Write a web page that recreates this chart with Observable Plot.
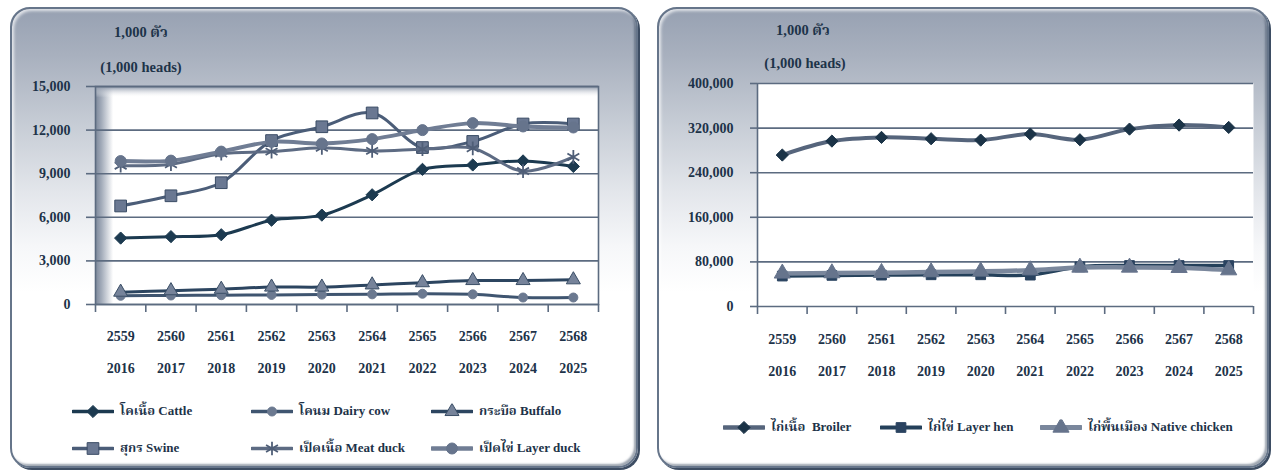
<!DOCTYPE html>
<html><head><meta charset="utf-8">
<script src="https://cdn.jsdelivr.net/npm/d3@7"></script>
<script src="https://cdn.jsdelivr.net/npm/@observablehq/plot@0.6"></script>
<style>
html,body{margin:0;padding:0}
body{width:1275px;height:470px;background:#fff;position:relative;overflow:hidden;font-family:"Liberation Serif","Times New Roman","Noto Serif Thai","Noto Sans Thai",serif;font-weight:bold;color:#1d3349}
.panel{position:absolute;top:7px;height:461px;box-sizing:border-box;border:2px solid #66758a;border-radius:20px;
 background:linear-gradient(to bottom,#97a1b2 0%,#a8b0be 10%,#c6ccd5 25%,#e3e6eb 40%,#f6f7f9 52%,#ffffff 62%);
 box-shadow:2px 2px 0 #3d4d63, inset 2px 2px 3px rgba(255,255,255,0.7), inset -2px -2px 2px rgba(60,76,98,0.5)}
.chart{position:absolute;top:7px}
.unit{position:absolute;font-size:14.5px;transform:translate(-50%,-50%);white-space:nowrap}
.leg{position:absolute;display:flex;align-items:center;font-size:13px;white-space:pre;transform:translateY(-50%)}
.leg svg{margin-right:6px}
</style>
</head><body>
<svg width="0" height="0" style="position:absolute">
<defs>
<linearGradient id="wallH" x1="0" y1="0" x2="1" y2="0">
<stop offset="0" stop-color="#7c879a"/><stop offset="0.012" stop-color="#a3acba"/><stop offset="0.035" stop-color="#ffffff"/><stop offset="1" stop-color="#ffffff"/>
</linearGradient>
<linearGradient id="wallV" x1="0" y1="0" x2="0" y2="1">
<stop offset="0" stop-color="#8a95a7" stop-opacity="1"/><stop offset="0.05" stop-color="#ffffff" stop-opacity="0"/><stop offset="1" stop-color="#ffffff" stop-opacity="0"/>
</linearGradient>
</defs></svg>
<div class="panel" style="left:10px;width:628px"></div>
<div class="panel" style="left:657px;width:612px"></div>
<div id="c1" class="chart" style="left:10px"></div>
<div id="c2" class="chart" style="left:657px"></div>
<div class="unit" style="left:141px;top:33px">1,000 ตัว</div>
<div class="unit" style="left:141px;top:67px">(1,000 heads)</div>
<div class="unit" style="left:803px;top:31px">1,000 ตัว</div>
<div class="unit" style="left:805px;top:63px">(1,000 heads)</div>
<div id="leg"></div>
<script>
// ---- data ----
const years = [2016, 2017, 2018, 2019, 2020, 2021, 2022, 2023, 2024, 2025];
const yearsBE = ["2559", "2560", "2561", "2562", "2563", "2564", "2565", "2566", "2567", "2568"];
const yearsCE = ["2016", "2017", "2018", "2019", "2020", "2021", "2022", "2023", "2024", "2025"];

const cattle    = [4570, 4670, 4800, 5800, 6150, 7550, 9300, 9600, 9880, 9500];
const dairyCow  = [600, 620, 640, 660, 680, 700, 740, 700, 480, 480];
const buffalo   = [850, 950, 1050, 1200, 1200, 1350, 1500, 1650, 1650, 1700];
const swine     = [6780, 7480, 8380, 11280, 12230, 13180, 10800, 11220, 12420, 12420];
const meatDuck  = [9550, 9650, 10380, 10520, 10780, 10570, 10690, 10750, 9180, 10150];
const layerDuck = [9870, 9900, 10520, 11190, 11080, 11380, 12000, 12480, 12250, 12180];

const broiler       = [271700, 296700, 303300, 300900, 298500, 309300, 299100, 318200, 325400, 321200];
const layerHen      = [54600, 55800, 56300, 56900, 56900, 56300, 71100, 73500, 73500, 73500];
const nativeChicken = [59400, 59900, 60500, 61700, 62900, 65200, 70000, 70000, 69400, 65200];

const leftTicks  = [0, 3000, 6000, 9000, 12000, 15000];
const rightTicks = [0, 80000, 160000, 240000, 320000, 400000];

const leftSeries = [
  {name: "โคเนื้อ Cattle", values: cattle, line: "#1c3a50", w: 3, symbol: "diamond2", fill: "#1c3a50", stroke: "#1c3a50", r: 5.5},
  {name: "โคนม Dairy cow", values: dairyCow, line: "#3f5570", w: 3, symbol: "circle", fill: "#6b7990", stroke: "#6b7990", r: 4.5},
  {name: "กระบือ Buffalo", values: buffalo, line: "#2c4560", w: 3, symbol: "triangle", fill: "#76839a", stroke: "#3a4e66", r: 5.2},
  {name: "สุกร Swine", values: swine, line: "#4b5d78", w: 3, symbol: "square", fill: "#6a7892", stroke: "#3a4c65", r: 6.6},
  {name: "เป็ดเนื้อ Meat duck", values: meatDuck, line: "#5d6b83", w: 3, symbol: "asterisk", fill: "none", stroke: "#4f5e77", r: 6.5},
  {name: "เป็ดไข่ Layer duck", values: layerDuck, line: "#707d94", w: 4, symbol: "circle", fill: "#66748c", stroke: "#66748c", r: 5.5}
];
const rightSeries = [
  {name: "ไก่เนื้อ  Broiler", values: broiler, line: "#56657c", w: 4, symbol: "diamond2", fill: "#1b3347", stroke: "#1b3347", r: 5.5},
  {name: "ไก่ไข่ Layer hen", values: layerHen, line: "#24405a", w: 3.5, symbol: "square", fill: "#2a4360", stroke: "#2a4360", r: 5.5},
  {name: "ไก่พื้นเมือง Native chicken", values: nativeChicken, line: "#7a879c", w: 4.5, symbol: "triangle", fill: "#66748c", stroke: "#66748c", r: 6}
];

const textColor = "#1d3349";
const gridColor = "#5c6b80";
const bounds = years.map(y => y - 0.5).concat([years[years.length - 1] + 0.5]);
const beOf = d => yearsBE[years.indexOf(d)];
const ceOf = d => yearsCE[years.indexOf(d)];

function seriesMarks(series) {
  const out = [];
  series.forEach((s) => {
    const data = s.values.map((v, i) => ({year: years[i], value: v}));
    out.push(Plot.line(data, {x: "year", y: "value", stroke: s.line, strokeWidth: s.w, curve: "catmull-rom"}));
    out.push(Plot.dot(data, {x: "year", y: "value", symbol: () => s.symbol, r: s.r, fill: s.fill, stroke: s.stroke, strokeWidth: s.symbol === "asterisk" ? 1.8 : 1}));
  });
  return out;
}

function makeChart(opts) {
  const {series, ticks, width, height, margins, wall, tickPadY, tickSizeY, pad1, pad2} = opts;
  const marks = [];
  marks.push(Plot.frame({fill: "white", stroke: null}));
  if (wall) {
    marks.push(Plot.frame({fill: "url(#wallH)", stroke: null}));
    marks.push(Plot.frame({fill: "url(#wallV)", stroke: null}));
  }
  marks.push(Plot.gridY(ticks, {stroke: gridColor, strokeOpacity: 1, strokeWidth: 1.6}));
  if (wall) {
    marks.push(Plot.frame({stroke: gridColor, strokeWidth: 1.6}));
  } else {
    marks.push(Plot.ruleX([bounds[0]], {stroke: gridColor, strokeWidth: 1.6}));
  }
  marks.push(Plot.axisY({ticks, tickSize: tickSizeY, tickPadding: tickPadY, tickFormat: d3.format(","), stroke: gridColor, strokeWidth: 1.6, fill: textColor, fontSize: 14, fontWeight: "bold", label: null}));
  marks.push(Plot.axisX({ticks: bounds, tickSize: 8, tickFormat: () => "", stroke: gridColor, strokeWidth: 1.6, label: null}));
  marks.push(Plot.axisX({ticks: years, tickSize: 0, tickPadding: pad1, tickFormat: beOf, fill: textColor, fontSize: 14, fontWeight: "bold", label: null}));
  marks.push(Plot.axisX({ticks: years, tickSize: 0, tickPadding: pad2, tickFormat: ceOf, fill: textColor, fontSize: 14, fontWeight: "bold", label: null}));
  marks.push(...seriesMarks(series));
  return Plot.plot({
    width, height,
    marginLeft: margins[0], marginRight: margins[1], marginTop: margins[2], marginBottom: margins[3],
    style: {background: "transparent", fontFamily: '"Liberation Serif","Times New Roman",serif', fontWeight: "bold", color: textColor, overflow: "visible"},
    x: {type: "linear", domain: [bounds[0], bounds[bounds.length - 1]]},
    y: {domain: [ticks[0], ticks[ticks.length - 1]]},
    marks
  });
}

document.getElementById("c1").append(makeChart({
  series: leftSeries, ticks: leftTicks, width: 628, height: 390,
  margins: [85, 40, 79, 93], wall: true, tickPadY: 16, tickSizeY: 9, pad1: 27, pad2: 59
}));
document.getElementById("c2").append(makeChart({
  series: rightSeries, ticks: rightTicks, width: 612, height: 390,
  margins: [100, 16, 76, 91], wall: false, tickPadY: 17, tickSizeY: 7, pad1: 28, pad2: 60
}));

// ---- legends ----
const symMap = {diamond2: d3.symbolDiamond2, circle: d3.symbolCircle, triangle: d3.symbolTriangle, square: d3.symbolSquare, asterisk: d3.symbolAsterisk};
function legendItem(s, left, top) {
  const div = d3.select("#leg").append("div").attr("class", "leg").style("left", left + "px").style("top", top + "px");
  const svg = div.append("svg").attr("width", 42).attr("height", 16);
  svg.append("line").attr("x1", 1).attr("x2", 41).attr("y1", 8).attr("y2", 8).attr("stroke", s.line).attr("stroke-width", s.w + 0.5).attr("stroke-linecap", "round");
  svg.append("path").attr("transform", "translate(21,8)")
    .attr("d", d3.symbol(symMap[s.symbol], Math.PI * s.r * s.r)())
    .attr("fill", s.fill).attr("stroke", s.stroke).attr("stroke-width", s.symbol === "asterisk" ? 1.8 : 1);
  div.append("span").text(s.name);
}
const leftPos = [[72, 411], [251, 411], [431, 411], [72, 448], [251, 448], [431, 448]];
leftSeries.forEach((s, i) => legendItem(s, leftPos[i][0], leftPos[i][1]));
const rightPos = [[723, 427], [880, 427], [1040, 427]];
rightSeries.forEach((s, i) => legendItem(s, rightPos[i][0], rightPos[i][1]));
</script>
</body></html>
